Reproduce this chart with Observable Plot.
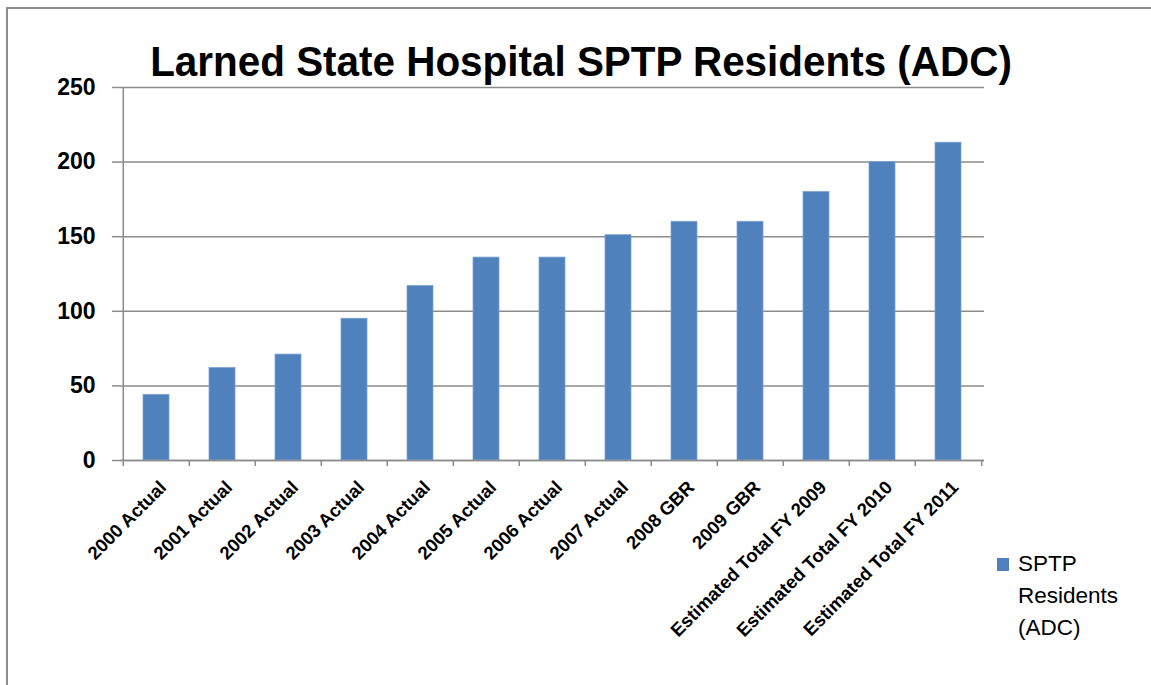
<!DOCTYPE html>
<html>
<head>
<meta charset="utf-8">
<script src="https://cdn.jsdelivr.net/npm/d3@7"></script>
<script src="https://cdn.jsdelivr.net/npm/@observablehq/plot@0.6"></script>
<style>
  html, body { margin: 0; padding: 0; background: #fff; }
  #wrap { position: relative; width: 1151px; height: 685px; overflow: hidden; background: #fff; }
  #frameLine { position: absolute; left: 6px; top: 7px; right: 0; bottom: 0; border-top: 2px solid #8c8c8c; border-left: 2px solid #8c8c8c; }
  #title { position: absolute; left: 0; width: 1162px; top: 36px; text-align: center;
    font-family: "Liberation Sans", Arial, sans-serif; font-weight: bold; font-size: 43px; line-height: 50px; color: #000;
    transform: scaleX(0.94); transform-origin: 581px 0; white-space: nowrap; }
  #legend { position: absolute; left: 997px; top: 548px; font-family: "Liberation Sans", Arial, sans-serif; font-size: 22.5px; line-height: 32px; color: #000; }
  #legend .sw { position: absolute; left: 0; top: 10px; width: 12px; height: 13px; background: #4F81BD; }
  #legend .tx { margin-left: 21px; }
  #chart { position: absolute; left: 0; top: 0; }
</style>
</head>
<body>
<div id="wrap">
  <div id="frameLine"></div>
  <div id="chart"></div>
  <div id="title"></div>
  <div id="legend"><div class="sw"></div><div class="tx"></div></div>
</div>
<script>
const titleText = "Larned State Hospital SPTP Residents (ADC)";
const seriesName = ["SPTP", "Residents", "(ADC)"];
const categories = [
  "2000 Actual", "2001 Actual", "2002 Actual", "2003 Actual", "2004 Actual",
  "2005 Actual", "2006 Actual", "2007 Actual", "2008 GBR", "2009 GBR",
  "Estimated Total FY 2009", "Estimated Total FY 2010", "Estimated Total FY 2011"
];
const values = [44, 62, 71, 95, 117, 136, 136, 151, 160, 160, 180, 200, 213];
const yTicks = [0, 50, 100, 150, 200, 250];

const data = categories.map((c, i) => ({category: c, value: values[i]}));

document.getElementById("title").textContent = titleText;
document.querySelector("#legend .tx").innerHTML = seriesName.map(s => `<div>${s}</div>`).join("");

const W = 1151, H = 685;
const mL = 120, mR = 167, mT = 87, mB = 225;
const step = (W - mL - mR) / categories.length;
const gray = "#8c8c8c";
const blue = "#4F81BD";

const chart = Plot.plot({
  width: W,
  height: H,
  marginLeft: mL,
  marginRight: mR,
  marginTop: mT,
  marginBottom: mB,
  style: {background: "transparent", fontFamily: "'Liberation Sans', Arial, sans-serif", color: "#000", overflow: "visible"},
  x: {domain: categories, paddingInner: 0.61, paddingOuter: 0.305},
  y: {domain: [0, 250], ticks: yTicks},
  marks: [
    Plot.gridY(yTicks, {stroke: gray, strokeOpacity: 1, strokeWidth: 1.5}),
    Plot.barY(data, {x: "category", y: "value", fill: blue, stroke: "#7ea3cf", strokeWidth: 0.8}),
    Plot.ruleY([0], {stroke: gray, strokeWidth: 1.5}),
    Plot.ruleX([0], {x: () => categories[0], y1: 0, y2: 250, dx: -step / 2, stroke: gray, strokeWidth: 1.5}),
    Plot.ruleX(categories, {x: d => d, y1: 0, y2: 0, insetBottom: -6, dx: -step / 2, stroke: gray, strokeWidth: 1.5}),
    Plot.ruleX([categories[categories.length - 1]], {x: d => d, y1: 0, y2: 0, insetBottom: -6, dx: step / 2, stroke: gray, strokeWidth: 1.5}),
    Plot.axisY({ticks: yTicks, tickSize: 8, tickPadding: 17, stroke: gray, strokeWidth: 1.5, strokeOpacity: 1,
      fontSize: 23, fontWeight: "bold", label: null}),
    Plot.axisX({tickSize: 0, label: null, tickFormat: () => ""}),
    Plot.text(categories, {x: d => d, text: d => d, frameAnchor: "bottom", rotate: -45, textAnchor: "end",
      lineAnchor: "bottom", dx: 11, dy: 28, fontSize: 18.5, fontWeight: "bold", fill: "#000"})
  ]
});
document.getElementById("chart").appendChild(chart);
</script>
</body>
</html>
